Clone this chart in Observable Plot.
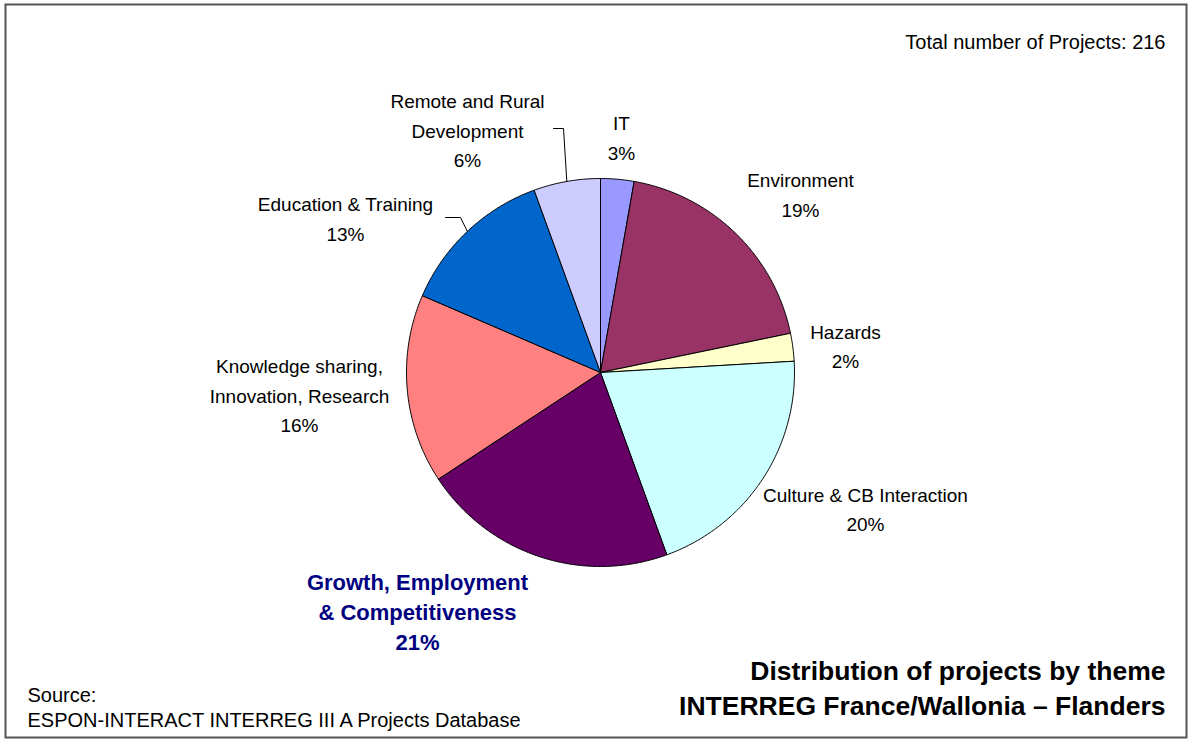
<!DOCTYPE html>
<html>
<head>
<meta charset="utf-8">
<script src="https://cdn.jsdelivr.net/npm/d3@7"></script>
<script src="https://cdn.jsdelivr.net/npm/@observablehq/plot@0.6"></script>
<style>
  html, body { margin: 0; padding: 0; background: #fff; }
  #chart svg { display: block; }
</style>
</head>
<body>
<div id="chart"></div>
<script>
// ---------------- DATA ----------------
const themes = [
  "IT",
  "Environment",
  "Hazards",
  "Culture & CB Interaction",
  "Growth, Employment & Competitiveness",
  "Knowledge sharing, Innovation, Research",
  "Education & Training",
  "Remote and Rural Development"
];
const themeLabels = [
  "IT",
  "Environment",
  "Hazards",
  "Culture & CB Interaction",
  "Growth, Employment\n& Competitiveness",
  "Knowledge sharing,\nInnovation, Research",
  "Education & Training",
  "Remote and Rural\nDevelopment"
];
const projectCounts = [6, 41, 5, 44, 46, 34, 28, 12];
const totalProjects = 216;
const highlightTheme = "Growth, Employment & Competitiveness";
const titleLines = ["Distribution of projects by theme", "INTERREG France/Wallonia \u2013 Flanders"];
const sourceLines = ["Source:", "ESPON-INTERACT INTERREG III A Projects Database"];
const totalText = `Total number of Projects: ${totalProjects}`;

// ---------------- STYLE / LAYOUT ----------------
const sliceColors = ["#9999FF", "#993366", "#FFFFCC", "#CCFFFF", "#660066", "#FF8080", "#0066CC", "#CCCCFF"];
const W = 1191, H = 742;
const CX = 600, CY = 372, R = 194;           // pie centre / radius (px)
const labelCentres = [                         // label block centres (px)
  [621, 135], [800, 192], [845, 343.5], [865, 506.5],
  [417, 610], [299, 393], [345, 216], [467, 128]
];
const leaderStarts = {                          // leader line elbows (px)
  "Education & Training": [[445, 217], [460, 217]],
  "Remote and Rural Development": [[553, 128], [563, 128]]
};
const FONT = "'Liberation Sans', Arial, Helvetica, sans-serif";
const px = x => x - CX, py = y => CY - y;

// ---------------- DERIVED ----------------
const arcs = d3.pie().sort(null).value(d => d)(projectCounts);
const slicePoints = [];
arcs.forEach((a, i) => {
  const theme = themes[i], color = sliceColors[i];
  const n = Math.max(2, Math.ceil((a.endAngle - a.startAngle) / (Math.PI / 360)));
  slicePoints.push({theme, color, x: 0, y: 0});
  for (let k = 0; k <= n; k++) {
    const t = a.startAngle + (a.endAngle - a.startAngle) * k / n;
    slicePoints.push({theme, color, x: R * Math.sin(t), y: R * Math.cos(t)});
  }
  slicePoints.push({theme, color, x: 0, y: 0});
});

const labels = themes.map((theme, i) => ({
  theme,
  text: themeLabels[i] + "\n" + Math.round(projectCounts[i] / totalProjects * 100) + "%",
  x: px(labelCentres[i][0]),
  y: py(labelCentres[i][1])
}));

const leaderPoints = [];
for (const [theme, elbows] of Object.entries(leaderStarts)) {
  const a = arcs[themes.indexOf(theme)];
  const mid = (a.startAngle + a.endAngle) / 2;
  elbows.forEach(([ex, ey]) => leaderPoints.push({theme, x: px(ex), y: py(ey)}));
  leaderPoints.push({theme, x: R * Math.sin(mid), y: R * Math.cos(mid)});
}

// ---------------- CHART ----------------
const chart = Plot.plot({
  width: W,
  height: H,
  margin: 0,
  x: {domain: [-CX, W - CX], axis: null},
  y: {domain: [CY - H, CY], axis: null},
  color: {type: "identity"},
  style: {fontFamily: FONT, background: "#fff", overflow: "visible"},
  marks: [
    Plot.frame({stroke: "#555", strokeWidth: 2, insetLeft: 5, insetTop: 4, insetRight: 5, insetBottom: 5}),
    Plot.line(slicePoints, {x: "x", y: "y", z: "theme", fill: "color", stroke: "#000", strokeWidth: 1, strokeLinejoin: "round"}),
    Plot.line(leaderPoints, {x: "x", y: "y", z: "theme", stroke: "#000", strokeWidth: 1}),
    Plot.text(labels.filter(d => d.theme !== highlightTheme), {
      x: "x", y: "y", text: "text", fontSize: 19, lineHeight: 1.55, fill: "#000", ariaLabel: "label"
    }),
    Plot.text(labels.filter(d => d.theme === highlightTheme), {
      x: "x", y: "y", text: "text", fontSize: 22, fontWeight: "bold", lineHeight: 1.35, fill: "#000080", ariaLabel: "highlight"
    }),
    Plot.text([totalText], {x: px(1165), y: py(42), text: d => d, textAnchor: "end", fontSize: 20, fill: "#000", ariaLabel: "total"}),
    Plot.text([titleLines.join("\n")], {x: px(1165), y: py(685.5), text: d => d, textAnchor: "end", fontSize: 26.5, fontWeight: "bold", lineHeight: 1.32, fill: "#000", ariaLabel: "title"}),
    Plot.text([sourceLines.join("\n")], {x: px(27), y: py(705.5), text: d => d, textAnchor: "start", fontSize: 20, lineHeight: 1.25, fill: "#000", ariaLabel: "source"})
  ]
});
document.getElementById("chart").appendChild(chart);
</script>
</body>
</html>
